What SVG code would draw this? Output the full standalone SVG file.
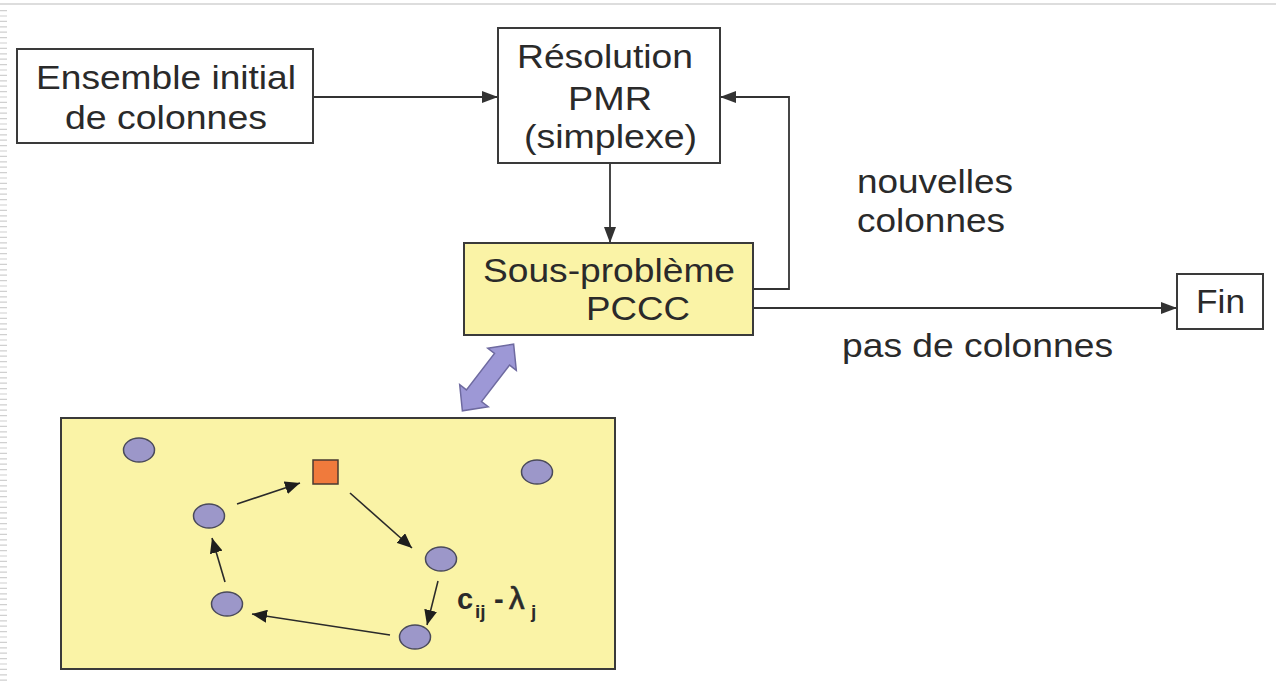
<svg xmlns="http://www.w3.org/2000/svg" width="1276" height="681" viewBox="0 0 1276 681">
<style>
.box{fill:#ffffff;stroke:#3a3a3a;stroke-width:2}
.ybox{fill:#faf3a6;stroke:#3a3a3a;stroke-width:2}
.t{font-family:"Liberation Sans",Arial,sans-serif;font-size:34px;fill:#2a2a2a}
.conn{fill:none;stroke:#333333;stroke-width:1.8}
.small{fill:none;stroke:#2a2a2a;stroke-width:1.6}
.dot{fill:#9c97c9;stroke:#4a4a5a;stroke-width:1.5}
.m{font-family:"Liberation Sans",Arial,sans-serif;font-weight:bold;fill:#2a2a2a}
</style>
<defs>
<marker id="ah" markerUnits="userSpaceOnUse" markerWidth="16" markerHeight="12" refX="16" refY="6" orient="auto">
<path d="M0,0 L16,6 L0,12 Z" fill="#333333"/>
</marker>
<marker id="sh" markerUnits="userSpaceOnUse" markerWidth="15" markerHeight="13" refX="15" refY="6.5" orient="auto">
<path d="M0,0 L15,6.5 L0,13 Z" fill="#1e1e1e"/>
</marker>
</defs>
<rect width="1276" height="681" fill="#ffffff"/>
<line x1="0" y1="4" x2="1276" y2="4" stroke="#dddddd" stroke-width="2"/>
<line x1="3.5" y1="10" x2="3.5" y2="681" stroke="#d0d0d0" stroke-width="7" stroke-dasharray="1.2 4.2"/>

<g id="connectors">
<line class="conn" x1="313" y1="97" x2="498" y2="97" marker-end="url(#ah)"/>
<line class="conn" x1="610" y1="163" x2="610" y2="243" marker-end="url(#ah)"/>
<polyline class="conn" points="753,289 789,289 789,97 720,97" marker-end="url(#ah)"/>
<line class="conn" x1="753" y1="308" x2="1177" y2="308" marker-end="url(#ah)"/>
</g>

<g id="n-ensemble">
<rect class="box" x="17" y="49" width="296" height="94"/>
<text class="t" x="36" y="89" textLength="260" lengthAdjust="spacingAndGlyphs">Ensemble initial</text>
<text class="t" x="65" y="129" textLength="202" lengthAdjust="spacingAndGlyphs">de colonnes</text>
</g>

<g id="n-resolution">
<rect class="box" x="498" y="28" width="222" height="135"/>
<text class="t" x="517" y="68" textLength="176" lengthAdjust="spacingAndGlyphs">Résolution</text>
<text class="t" x="568" y="110" textLength="84" lengthAdjust="spacingAndGlyphs">PMR</text>
<text class="t" x="524" y="148" textLength="173" lengthAdjust="spacingAndGlyphs">(simplexe)</text>
</g>

<g id="n-sousprobleme">
<rect class="ybox" x="464" y="243" width="289" height="92"/>
<text class="t" x="483" y="282" textLength="252" lengthAdjust="spacingAndGlyphs">Sous-problème</text>
<text class="t" x="586" y="320" textLength="104" lengthAdjust="spacingAndGlyphs">PCCC</text>
</g>

<g id="n-fin">
<rect class="box" x="1177" y="274" width="86" height="55"/>
<text class="t" x="1196" y="313" textLength="49" lengthAdjust="spacingAndGlyphs">Fin</text>
</g>

<g id="labels">
<text class="t" x="857" y="193" textLength="156" lengthAdjust="spacingAndGlyphs">nouvelles</text>
<text class="t" x="857" y="232" textLength="148" lengthAdjust="spacingAndGlyphs">colonnes</text>
<text class="t" x="842" y="357" textLength="271" lengthAdjust="spacingAndGlyphs">pas de colonnes</text>
</g>

<g id="n-fatarrow">
<path transform="translate(488,377.5) rotate(-52.4)" d="M-42,0 L-23,-18 L-23,-9.5 L23,-9.5 L23,-18 L42,0 L23,18 L23,9.5 L-23,9.5 L-23,18 Z" fill="#9d98d6" stroke="#6e6aa0" stroke-width="1.5"/>
</g>

<g id="n-graph">
<rect class="ybox" x="61" y="418" width="554" height="251"/>
<g id="graph-arrows">
<line class="small" x1="237" y1="504" x2="300" y2="483" marker-end="url(#sh)"/>
<line class="small" x1="350" y1="493" x2="412" y2="548" marker-end="url(#sh)"/>
<line class="small" x1="438" y1="581" x2="427" y2="625" marker-end="url(#sh)"/>
<line class="small" x1="390" y1="635" x2="252" y2="614" marker-end="url(#sh)"/>
<line class="small" x1="225" y1="582" x2="212" y2="538" marker-end="url(#sh)"/>
</g>
<ellipse class="dot" cx="139" cy="450" rx="15.5" ry="12"/>
<ellipse class="dot" cx="537" cy="472" rx="15.5" ry="12"/>
<ellipse class="dot" cx="209" cy="516" rx="15.5" ry="12"/>
<ellipse class="dot" cx="441" cy="559" rx="15.5" ry="12"/>
<ellipse class="dot" cx="227" cy="604" rx="15.5" ry="12"/>
<ellipse class="dot" cx="415" cy="637" rx="15.5" ry="12"/>
<rect x="313" y="460" width="25" height="24" fill="#f07a3c" stroke="#4a3a30" stroke-width="1.5"/>
<text class="m" y="609"><tspan x="457" font-size="29">c</tspan><tspan x="475" y="618" font-size="19">ij</tspan><tspan x="494" y="609" font-size="29">-</tspan><tspan x="509" font-size="31" font-weight="normal" stroke="#2a2a2a" stroke-width="0.7">λ</tspan><tspan x="531" y="618" font-size="19">j</tspan></text>
</g>
</svg>
